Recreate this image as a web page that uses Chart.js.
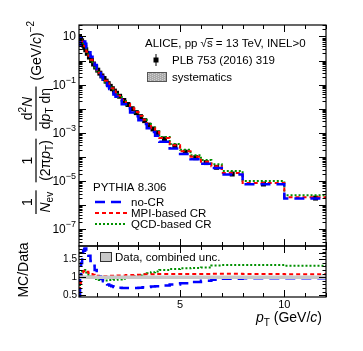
<!DOCTYPE html>
<html>
<head>
<meta charset="utf-8">
<script src="https://cdn.jsdelivr.net/npm/chart.js@4.4.0/dist/chart.umd.min.js"></script>
<style>
  html, body { margin: 0; padding: 0; background: #fff; }
  #wrap { position: relative; width: 363px; height: 351px; }
  #wrap canvas { position: absolute; left: 0; top: 0; }
</style>
</head>
<body>
<div id="wrap">
  <canvas id="spectrum" width="363" height="351"></canvas>
  <canvas id="ratio" width="363" height="351"></canvas>
</div>
<script>
// pT bin edges (GeV/c)
const ptEdges = [0.15, 0.2, 0.25, 0.3, 0.35, 0.4, 0.45, 0.5,
    0.6, 0.7, 0.8, 0.9, 1.0,
    1.1, 1.2, 1.3, 1.4, 1.5, 1.6, 1.7, 1.8, 1.9, 2.0,
    2.2, 2.4, 2.6, 2.8, 3.0, 3.2, 3.4, 3.6, 3.8, 4.0,
    4.5, 5.0, 5.5, 6.0, 6.5, 7.0,
    8.0, 10.0, 13.0];

// ALICE data, 1/Nev 1/(2pi pT) d2N/dpTdeta
const dataYield = [10.0, 8.1, 6.6, 5.4, 4.4, 3.5, 2.8,
    2.0, 1.4, 1.0, 0.72, 0.54,
    0.40, 0.30, 0.23, 0.18, 0.14, 0.11, 0.085, 0.068, 0.054, 0.044,
    0.033, 0.022, 0.015, 0.010, 0.0069, 0.0047, 0.0032, 0.0021, 0.00145, 0.0010,
    0.00056, 0.00028, 0.000158, 0.000093, 0.000058, 0.000037,
    0.0000195, 0.0000075, 0.00000195];

// MC / data
const ratioNoCR = [0.45, 1.0, 1.4, 1.62, 1.74, 1.79, 1.8,
    1.74, 1.6, 1.45, 1.32, 1.2,
    1.1, 1.02, 0.95, 0.89, 0.84, 0.8, 0.77, 0.75, 0.73, 0.72,
    0.71, 0.7, 0.7, 0.7, 0.7, 0.71, 0.72, 0.73, 0.74, 0.75,
    0.77, 0.8, 0.83, 0.87, 0.9, 0.93,
    0.96, 0.97, 0.97];
const ratioMPI = [0.45, 0.85, 1.05, 1.13, 1.17, 1.18, 1.17,
    1.15, 1.12, 1.09, 1.07, 1.05,
    1.04, 1.03, 1.03, 1.03, 1.03, 1.03, 1.04, 1.04, 1.04, 1.04,
    1.05, 1.05, 1.06, 1.06, 1.07, 1.07, 1.08, 1.08, 1.08, 1.09,
    1.09, 1.09, 1.09, 1.09, 1.09, 1.1,
    1.1, 1.09, 1.08];
const ratioQCD = [0.45, 0.9, 1.1, 1.17, 1.2, 1.2, 1.18,
    1.13, 1.07, 1.02, 0.98, 0.95,
    0.93, 0.92, 0.91, 0.91, 0.91, 0.91, 0.92, 0.92, 0.93, 0.93,
    0.94, 0.96, 0.98, 1.0, 1.02, 1.05, 1.08, 1.11, 1.14, 1.16,
    1.2, 1.23, 1.25, 1.26, 1.27, 1.33,
    1.34, 1.34, 1.32];

const SYS_REL = 0.07;      // systematics box half height
const BAND_REL = 0.05;     // combined unc. band in ratio
const yDecades = [1e-7, 1e-5, 1e-3, 1e-1, 10];
const ratioTicks = [0.5, 1, 1.5];
const xTickLabels = [5, 10];

const BLUE = '#0000ff', RED = '#ff0000', GREEN = '#009000';
const FONT = '"Liberation Sans", Arial, sans-serif';

/************************ helpers */
const font = (sz, it) => (it ? 'italic ' : '') + sz + 'px ' + FONT;

richWidth = (ctx, parts) => {
    let w = 0;
    parts.forEach((p) => { ctx.font = font(p.s, p.i); w += ctx.measureText(p.t).width; });
    return w;
};
richDraw = (ctx, parts, x, y) => {
    parts.forEach((p) => {
        ctx.font = font(p.s, p.i);
        ctx.fillText(p.t, x, y + (p.dy || 0));
        x += ctx.measureText(p.t).width;
    });
    return x;
};
frac = (ctx, num, den, x) => {
    const wn = richWidth(ctx, num), wd = richWidth(ctx, den);
    const w = Math.max(wn, wd) + 3;
    richDraw(ctx, num, x + (w - wn) / 2, -4);
    richDraw(ctx, den, x + (w - wd) / 2, 14);
    ctx.fillRect(x, -0.6, w, 1.2);
    return x + w;
};

steps = (vals) => {
    let pts = [];
    vals.forEach((v, i) => {
        pts.push({ x: ptEdges[i], y: v });
        pts.push({ x: ptEdges[i + 1], y: v });
    });
    return pts;
};
const ptCenters = dataYield.map((v, i) => (ptEdges[i] + ptEdges[i + 1]) / 2);
const mcNoCR = dataYield.map((v, i) => v * ratioNoCR[i]);
const mcMPI = dataYield.map((v, i) => v * ratioMPI[i]);
const mcQCD = dataYield.map((v, i) => v * ratioQCD[i]);

// inward ticks + frame like ROOT
drawFrame = (chart, yMajor, yMinor) => {
    const { ctx, chartArea: a, scales } = chart;
    const sx = scales.x, sy = scales.y;
    ctx.save();
    ctx.strokeStyle = '#000';
    ctx.lineWidth = 1;
    ctx.beginPath();
    for (let v = 1; v <= 12; v++) {
        const px = Math.round(sx.getPixelForValue(v)) + 0.5;
        const len = v % 5 == 0 ? 7 : 4;
        ctx.moveTo(px, a.top); ctx.lineTo(px, a.top + len);
        ctx.moveTo(px, a.bottom); ctx.lineTo(px, a.bottom - len);
    }
    yMajor.forEach((v) => {
        const py = Math.round(sy.getPixelForValue(v)) + 0.5;
        ctx.moveTo(a.left, py); ctx.lineTo(a.left + 7, py);
        ctx.moveTo(a.right, py); ctx.lineTo(a.right - 7, py);
    });
    yMinor.forEach((v) => {
        const py = Math.round(sy.getPixelForValue(v)) + 0.5;
        if (py < a.top || py > a.bottom) return;
        ctx.moveTo(a.left, py); ctx.lineTo(a.left + 3.5, py);
        ctx.moveTo(a.right, py); ctx.lineTo(a.right - 3.5, py);
    });
    ctx.stroke();
    ctx.lineWidth = 1.2;
    ctx.strokeRect(a.left, a.top, a.right - a.left, a.bottom - a.top);
    ctx.restore();
};

let logMajor = [], logMinor = [];
for (let d = -8; d <= 1; d++) {
    logMajor.push(Math.pow(10, d));
    for (let k = 2; k <= 9; k++) logMinor.push(k * Math.pow(10, d));
}
let linMinor = [];
for (let v = 0.5; v <= 1.85; v += 0.1) linMinor.push(v);

/************************ spectrum panel */
const sysPlugin = {
    id: 'sysBoxes',
    beforeDatasetsDraw(chart) {
        const { ctx, scales: { x, y }, chartArea: a } = chart;
        const perGeV = x.getPixelForValue(1) - x.getPixelForValue(0);
        ctx.save();
        ctx.beginPath();
        ctx.rect(a.left, a.top, a.right - a.left, a.bottom - a.top);
        ctx.clip();
        ctx.fillStyle = 'rgba(170,170,170,0.55)';
        dataYield.forEach((v, i) => {
            const xc = x.getPixelForValue(ptCenters[i]);
            const hw = Math.max(2.5, Math.min(0.12, (ptEdges[i + 1] - ptEdges[i]) * 0.35) * perGeV);
            const y1 = y.getPixelForValue(v * (1 + SYS_REL));
            const y2 = y.getPixelForValue(v * (1 - SYS_REL));
            ctx.fillRect(xc - hw, y1, 2 * hw, y2 - y1);
        });
        ctx.restore();
    }
};

const spectrumDeco = {
    id: 'spectrumDeco',
    afterDraw(chart) {
        const { ctx, scales: { y } } = chart;
        drawFrame(chart, logMajor, logMinor);
        ctx.save();
        ctx.fillStyle = '#000';
        ctx.textBaseline = 'alphabetic';

        // y tick labels 10^n
        yDecades.forEach((v) => {
            const e = Math.round(Math.log10(v));
            const py = y.getPixelForValue(v);
            const parts = e == 1 ? [{ t: '10', s: 12 }] : [{ t: '10', s: 12 }, { t: '\u2212' + (-e), s: 9, dy: -6 }];
            const w = richWidth(ctx, parts);
            richDraw(ctx, parts, 76 - w, py + 4);
        });

        // y title (rotated)
        ctx.save();
        ctx.translate(36, 214);
        ctx.rotate(-Math.PI / 2);
        let lx = 0;
        lx = frac(ctx, [{ t: '1', s: 14 }], [{ t: 'N', s: 14, i: true }, { t: 'ev', s: 10, dy: 3 }], lx) + 8;
        lx = frac(ctx, [{ t: '1', s: 14 }], [{ t: '(2\u03c0', s: 14 }, { t: 'p', s: 14, i: true }, { t: 'T', s: 10, dy: 3 }, { t: ')', s: 14 }], lx) + 8;
        lx = frac(ctx, [{ t: 'd', s: 14 }, { t: '2', s: 10, dy: -6 }, { t: 'N', s: 14, i: true }],
            [{ t: 'd', s: 14 }, { t: 'p', s: 14, i: true }, { t: 'T', s: 10, dy: 3 }, { t: ' d\u03b7', s: 14 }], lx) + 6;
        richDraw(ctx, [{ t: '(GeV/', s: 14 }, { t: 'c', s: 14, i: true }, { t: ')', s: 14 }, { t: '\u22122', s: 10, dy: -7 }], lx, 5);
        ctx.restore();

        // header
        let tx = richDraw(ctx, [{ t: 'ALICE, pp ', s: 11.5 }], 145, 47);
        ctx.font = font(11.5);
        ctx.fillText('\u221a', tx, 47);
        tx += ctx.measureText('\u221a').width;
        const sw = ctx.measureText('s').width;
        ctx.fillText('s', tx, 47);
        ctx.fillRect(tx - 0.5, 38, sw + 1, 0.9);
        tx += sw;
        ctx.fillText(' = 13 TeV, INEL>0', tx, 47);

        // data legend
        ctx.fillRect(153.5, 57.5, 5, 5);
        ctx.fillRect(155.5, 54, 1, 12);
        ctx.fillText('PLB 753 (2016) 319', 172, 64);
        ctx.fillStyle = '#aaaaaa';
        ctx.fillRect(147, 72, 20, 10);
        ctx.fillStyle = '#d0d0d0';
        for (let px = 148; px < 167; px += 2)
            for (let py = 73 + (px % 4 == 0 ? 0 : 1); py < 82; py += 2) ctx.fillRect(px, py, 1, 1);
        ctx.strokeStyle = '#555';
        ctx.lineWidth = 1;
        ctx.strokeRect(147.5, 72.5, 19, 9);
        ctx.fillStyle = '#000';
        ctx.fillText('systematics', 172, 81);

        // PYTHIA legend
        ctx.font = font(11.5);
        ctx.fillText('PYTHIA 8.306', 93, 191);
        const entries = [
            { label: 'no-CR', color: BLUE, dash: [10, 6], w: 2.5, y: 202 },
            { label: 'MPI-based CR', color: RED, dash: [4, 3], w: 2, y: 213 },
            { label: 'QCD-based CR', color: GREEN, dash: [2, 2], w: 2, y: 224 }
        ];
        entries.forEach((e) => {
            ctx.strokeStyle = e.color;
            ctx.lineWidth = e.w;
            ctx.setLineDash(e.dash);
            ctx.beginPath();
            ctx.moveTo(95, e.y); ctx.lineTo(127, e.y);
            ctx.stroke();
            ctx.setLineDash([]);
            ctx.fillText(e.label, 131, e.y + 4);
        });
        ctx.restore();
    }
};

new Chart(document.getElementById('spectrum').getContext('2d'), {
    type: 'line',
    data: {
        datasets: [
            { label: 'no-CR', data: steps(mcNoCR), borderColor: BLUE, borderWidth: 2.5, borderDash: [10, 6], pointRadius: 0, fill: false },
            { label: 'MPI-based CR', data: steps(mcMPI), borderColor: RED, borderWidth: 2, borderDash: [4, 3], pointRadius: 0, fill: false },
            { label: 'QCD-based CR', data: steps(mcQCD), borderColor: GREEN, borderWidth: 2, borderDash: [2, 2], pointRadius: 0, fill: false },
            {
                label: 'data', data: ptCenters.map((x, i) => ({ x: x, y: dataYield[i] })), showLine: false,
                pointStyle: 'rect', pointRadius: 3.5, backgroundColor: '#000', borderColor: '#000', borderWidth: 0
            }
        ]
    },
    options: {
        responsive: false,
        animation: false,
        events: [],
        layout: { padding: { left: 0, top: 25, right: 37, bottom: 105 } },
        plugins: { legend: { display: false }, tooltip: { enabled: false } },
        scales: {
            x: { type: 'linear', min: 0.15, max: 12, display: false },
            y: {
                type: 'logarithmic', min: 2e-8, max: 30,
                ticks: { display: false }, grid: { display: false, drawTicks: false }, border: { display: false },
                afterFit: (s) => { s.width = 79; }
            }
        }
    },
    plugins: [sysPlugin, spectrumDeco]
});

/************************ ratio panel */
const ratioDeco = {
    id: 'ratioDeco',
    afterDraw(chart) {
        const { ctx } = chart;
        drawFrame(chart, ratioTicks, linMinor);
        ctx.save();
        ctx.fillStyle = '#000';
        // y title
        ctx.save();
        ctx.translate(28, 270);
        ctx.rotate(-Math.PI / 2);
        ctx.font = font(14);
        ctx.textAlign = 'center';
        ctx.fillText('MC/Data', 0, 0);
        ctx.restore();
        // x title
        const parts = [{ t: 'p', s: 14, i: true }, { t: 'T', s: 10, dy: 4 }, { t: ' (GeV/', s: 14 }, { t: 'c', s: 14, i: true }, { t: ')', s: 14 }];
        richDraw(ctx, parts, 322 - richWidth(ctx, parts), 322);
        // legend
        ctx.fillStyle = '#c8c8c8';
        ctx.fillRect(100, 252, 12, 10);
        ctx.strokeStyle = '#333';
        ctx.lineWidth = 1;
        ctx.strokeRect(100.5, 252.5, 11, 9);
        ctx.fillStyle = '#000';
        ctx.font = font(11.5);
        ctx.fillText('Data, combined unc.', 115, 261);
        ctx.restore();
    }
};

new Chart(document.getElementById('ratio').getContext('2d'), {
    type: 'line',
    data: {
        datasets: [
            { data: [{ x: 0.15, y: 1 + BAND_REL }, { x: 12, y: 1 + BAND_REL }], borderWidth: 0, pointRadius: 0, fill: false },
            { data: [{ x: 0.15, y: 1 - BAND_REL }, { x: 12, y: 1 - BAND_REL }], borderWidth: 0, pointRadius: 0, fill: '-1', backgroundColor: '#c8c8c8' },
            { data: [{ x: 0.15, y: 1 }, { x: 12, y: 1 }], borderColor: '#444', borderWidth: 2, pointRadius: 0, fill: false },
            { data: steps(ratioNoCR), borderColor: BLUE, borderWidth: 2.5, borderDash: [10, 6], pointRadius: 0, fill: false },
            { data: steps(ratioMPI), borderColor: RED, borderWidth: 2, borderDash: [4, 3], pointRadius: 0, fill: false },
            { data: steps(ratioQCD), borderColor: GREEN, borderWidth: 2, borderDash: [2, 2], pointRadius: 0, fill: false }
        ]
    },
    options: {
        responsive: false,
        animation: false,
        events: [],
        layout: { padding: { left: 0, top: 246, right: 37, bottom: 0 } },
        plugins: { legend: { display: false }, tooltip: { enabled: false } },
        scales: {
            x: {
                type: 'linear', min: 0.15, max: 12,
                afterBuildTicks: (s) => { s.ticks = xTickLabels.map((v) => ({ value: v })); },
                ticks: { color: '#000', font: { family: FONT, size: 11 }, padding: 1, maxRotation: 0, autoSkip: false },
                grid: { display: false, drawTicks: false }, border: { display: false },
                afterFit: (s) => { s.height = 54; }
            },
            y: {
                type: 'linear', min: 0.45, max: 1.87,
                afterBuildTicks: (s) => { s.ticks = ratioTicks.map((v) => ({ value: v })); },
                ticks: { color: '#000', font: { family: FONT, size: 10 }, padding: 2, callback: (v) => String(v) },
                grid: { display: false, drawTicks: false }, border: { display: false },
                afterFit: (s) => { s.width = 79; }
            }
        }
    },
    plugins: [ratioDeco]
});
</script>
</body>
</html>
